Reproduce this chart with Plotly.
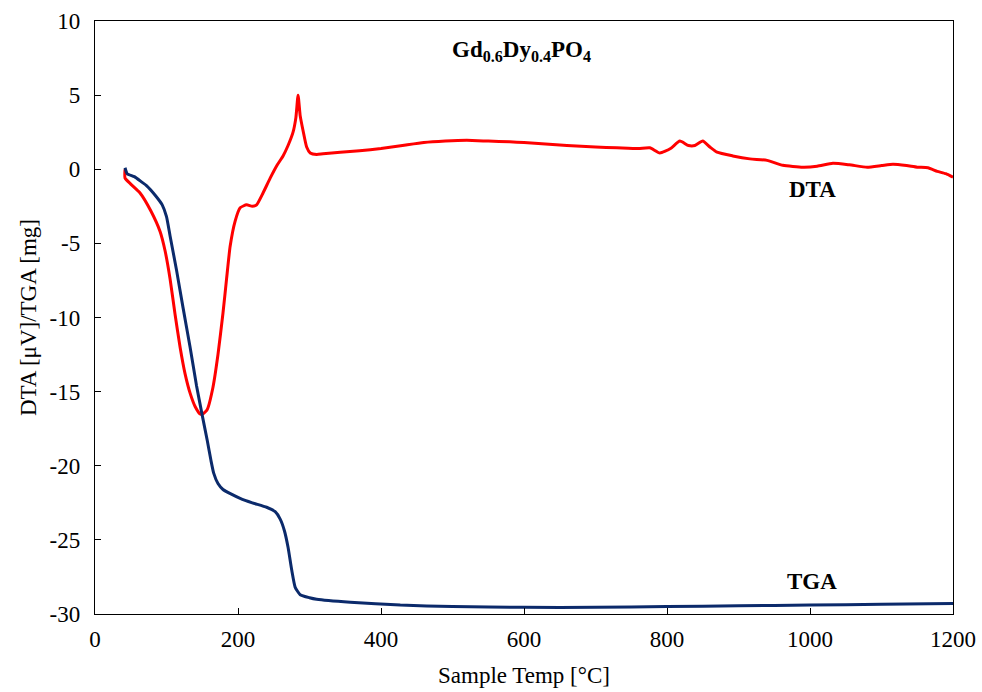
import plotly.graph_objects as go

# DTA curve (red)
dta_temp = [42, 42, 50, 63, 78, 91, 98, 105, 112, 119, 126, 133, 140, 147, 151, 157,
            165, 172, 179, 184, 189, 196, 203, 212, 220, 226, 235, 245, 255, 263, 270,
            277, 281, 284, 287, 291, 296, 301, 310, 319, 343, 370, 400, 430, 460, 490,
            520, 550, 580, 600, 630, 660, 700, 730, 760, 776, 790, 805, 818, 830, 839,
            850, 860, 870, 892, 916, 940, 962, 990, 1010, 1032, 1055, 1080, 1100, 1116,
            1135, 1150, 1165, 1178, 1190, 1200]
dta_val = [0.0, -0.6, -1.0, -1.6, -2.8, -4.2, -5.5, -7.4, -9.8, -12.0, -13.8, -15.1,
           -16.0, -16.5, -16.5, -16.2, -14.7, -12.5, -9.7, -7.4, -5.2, -3.5, -2.6, -2.4,
           -2.5, -2.4, -1.6, -0.6, 0.3, 0.9, 1.6, 2.5, 3.5, 5.0, 3.6, 2.6, 1.5, 1.1, 1.0,
           1.05, 1.15, 1.25, 1.4, 1.6, 1.8, 1.9, 1.95, 1.9, 1.85, 1.8, 1.7, 1.6, 1.5,
           1.45, 1.4, 1.45, 1.1, 1.4, 1.9, 1.6, 1.6, 1.9, 1.5, 1.15, 0.9, 0.7, 0.6, 0.27,
           0.14, 0.2, 0.4, 0.3, 0.14, 0.25, 0.34, 0.25, 0.14, 0.1, -0.14, -0.3, -0.54]

# TGA curve (navy)
tga_temp = [42, 45, 55, 65, 72, 85, 94, 100, 105, 114, 123, 133, 142, 150, 157, 162,
            166, 172, 179, 190, 203, 220, 240, 252, 259, 265, 270, 275, 280, 287, 300,
            310, 357, 427, 500, 600, 700, 800, 900, 1000, 1100, 1200]
tga_val = [0.1, -0.3, -0.5, -0.85, -1.1, -1.8, -2.4, -3.2, -4.5, -6.8, -9.3, -12.0,
           -14.6, -16.6, -18.3, -19.6, -20.5, -21.2, -21.6, -21.9, -22.2, -22.5, -22.8,
           -23.1, -23.6, -24.4, -25.5, -27.0, -28.2, -28.7, -28.9, -29.0, -29.2, -29.4,
           -29.5, -29.55, -29.55, -29.5, -29.45, -29.4, -29.35, -29.3]

x_ticks = [0, 200, 400, 600, 800, 1000, 1200]
y_ticks = [-30, -25, -20, -15, -10, -5, 0, 5, 10]

FONT = "Liberation Serif, Times New Roman, serif"

fig = go.Figure()
fig.add_trace(go.Scatter(x=dta_temp, y=dta_val, mode="lines", name="DTA",
                         line=dict(color="#FF0000", width=3, shape="spline", smoothing=0.5)))
fig.add_trace(go.Scatter(x=tga_temp, y=tga_val, mode="lines", name="TGA",
                         line=dict(color="#0B2A6B", width=3, shape="spline", smoothing=0.5)))

fig.update_layout(
    width=982, height=692,
    margin=dict(l=95, r=29, t=21, b=78, autoexpand=False),
    paper_bgcolor="white", plot_bgcolor="white",
    showlegend=False,
    font=dict(family=FONT, size=23, color="black"),
    annotations=[
        dict(x=597, y=8.0, xref="x", yref="y", showarrow=False,
             text="<b>Gd<sub>0.6</sub>Dy<sub>0.4</sub>PO<sub>4</sub></b>",
             font=dict(family=FONT, size=23, color="black")),
        dict(x=1003, y=-1.35, xref="x", yref="y", showarrow=False,
             text="<b>DTA</b>", font=dict(family=FONT, size=23, color="black")),
        dict(x=1003, y=-27.8, xref="x", yref="y", showarrow=False,
             text="<b>TGA</b>", font=dict(family=FONT, size=23, color="black")),
    ],
)
fig.update_xaxes(
    range=[0, 1200], tickvals=x_ticks, ticktext=[str(v) for v in x_ticks],
    ticks="inside", ticklen=6, tickcolor="black", ticklabelstandoff=4,
    showline=True, linecolor="black", linewidth=1.3, mirror=True,
    showgrid=False, zeroline=False, automargin=False,
    tickfont=dict(family=FONT, size=23),
    title=dict(text="Sample Temp [°C]", font=dict(family=FONT, size=23), standoff=16),
)
fig.update_yaxes(
    range=[-30, 10], tickvals=y_ticks, ticktext=[str(v) for v in y_ticks],
    ticks="inside", ticklen=6, tickcolor="black", ticklabelstandoff=9,
    showline=True, linecolor="black", linewidth=1.3, mirror=True,
    showgrid=False, zeroline=False, automargin=False,
    tickfont=dict(family=FONT, size=23),
    title=dict(text="DTA [μV]/TGA [mg]", font=dict(family=FONT, size=23), standoff=6),
)

fig.write_html("out.html")
